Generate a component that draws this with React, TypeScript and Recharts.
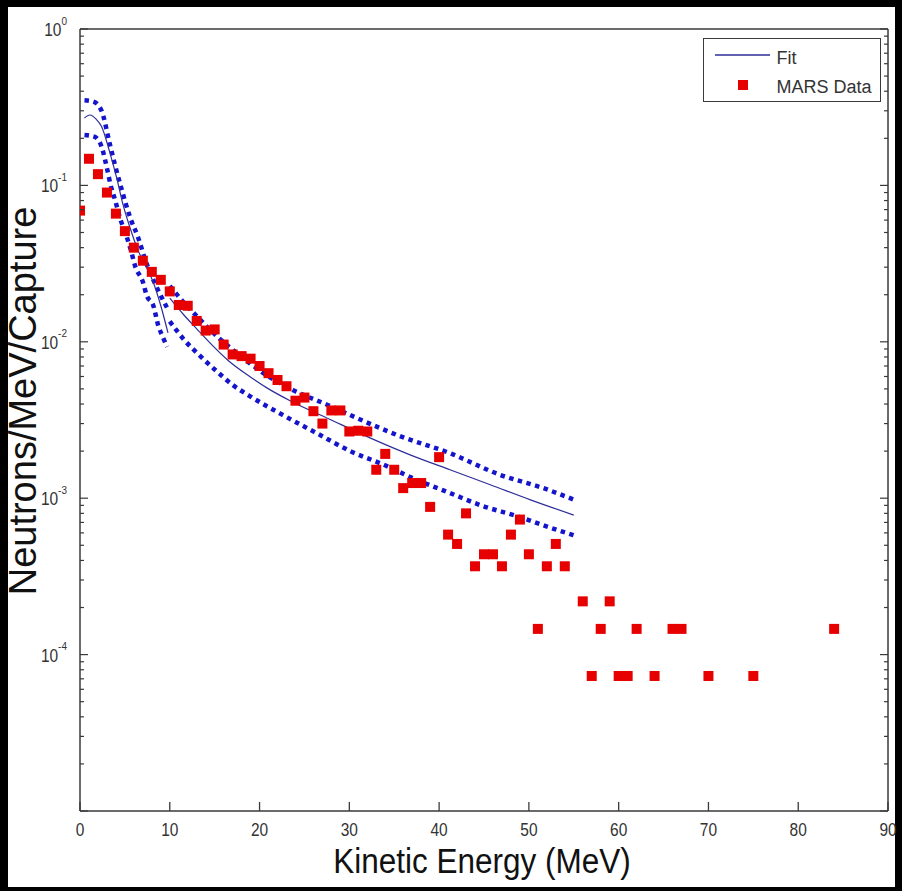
import React from "react";
import { ComposedChart, Line, Scatter, XAxis, YAxis, Legend, Label } from "recharts";

// MARS simulated spectrum (red squares)
const marsEnergy = [
  0, 1, 2, 3, 4, 5, 6, 7, 8, 9, 10, 11, 12, 13, 14, 15, 16, 17, 18, 19, 20, 21, 22, 23, 24, 25, 26, 27,
  28, 29, 30, 31, 32, 33, 34, 35, 36, 37, 38, 39, 40, 41, 42, 43, 44, 45, 46, 47, 48, 49, 50, 51, 52,
  53, 54, 56, 57, 58, 59, 60, 61, 62, 64, 66, 67, 70, 75, 84,
];
const marsValue = [
  0.069, 0.148, 0.118, 0.09, 0.066, 0.051, 0.04, 0.033, 0.028, 0.0249, 0.021, 0.0172, 0.017, 0.0136,
  0.0118, 0.012, 0.0096, 0.0083, 0.0081, 0.0078, 0.007, 0.0063, 0.0057, 0.0052, 0.0042, 0.0044, 0.0036,
  0.003, 0.00364, 0.00364, 0.00267, 0.0027, 0.00267, 0.00152, 0.00192, 0.00152, 0.00116, 0.00125,
  0.00125, 0.00088, 0.00183, 0.000585, 0.00051, 0.0008, 0.000367, 0.000438, 0.000438, 0.000367,
  0.000585, 0.00073, 0.000438, 0.000146, 0.000367, 0.00051, 0.000367, 0.000219, 0.000073, 0.000146,
  0.000219, 0.000073, 0.000073, 0.000146, 0.000073, 0.000146, 0.000146, 0.000073, 0.000073, 0.000146,
];

// fit, low energy part
const fitLowE = [0.5, 1.1, 1.8, 2.4, 3.3, 4.1, 4.8, 5.6, 6.5, 7.4, 8.2, 9.0, 9.8];
const fitLowV = [0.27, 0.282, 0.265, 0.238, 0.164, 0.111, 0.075, 0.053, 0.038, 0.03, 0.0237, 0.017, 0.0114];
const fitLowUpE = [0.5, 1.5, 2.4, 3.3, 3.9, 4.6, 5.6, 6.5, 7.3, 8.5, 9.7];
const fitLowUpV = [0.35, 0.343, 0.3, 0.186, 0.135, 0.096, 0.062, 0.046, 0.033, 0.0226, 0.0165];
const fitLowDnE = [0.5, 1.6, 2.4, 3.0, 3.4, 3.9, 4.45, 5.2, 5.75, 6.1, 7.05, 7.4, 8.2, 8.7, 9.2, 9.7];
const fitLowDnV = [
  0.21, 0.205, 0.177, 0.129, 0.101, 0.081, 0.062, 0.047, 0.037, 0.031, 0.0237, 0.02, 0.0168, 0.0128,
  0.0108, 0.0093,
];

// fit, high energy part
const fitHighE = [10, 11.5, 13, 14.5, 16.5, 18.9, 21, 23.4, 27.8, 32.3, 36.7, 41.2, 45.7, 50.1, 55];
const fitHighV = [
  0.019, 0.015, 0.0121, 0.0098, 0.0076, 0.006, 0.005, 0.0042, 0.0032, 0.00243, 0.0019, 0.00152,
  0.00122, 0.00098, 0.00078,
];
const fitHighUpE = [10, 11.5, 13, 14.5, 16.5, 18.9, 21, 23.75, 27.8, 30.1, 35.6, 41.2, 46.8, 51.6, 55];
const fitHighUpV = [
  0.0228, 0.018, 0.0146, 0.0119, 0.0094, 0.0073, 0.006, 0.0049, 0.0039, 0.0034, 0.0025, 0.00194,
  0.00141, 0.00116, 0.00098,
];
const fitHighDnE = [10, 11.6, 13.4, 15.2, 17, 18.9, 22.6, 26.4, 30.1, 33.8, 37.5, 41.2, 44.9, 48.6, 52.3, 55];
const fitHighDnV = [
  0.0135, 0.0103, 0.0081, 0.0065, 0.0053, 0.0045, 0.0034, 0.0026, 0.002, 0.00164, 0.00131, 0.00108,
  0.00089, 0.00077, 0.00065, 0.00058,
];

const xTicks = [0, 10, 20, 30, 40, 50, 60, 70, 80, 90];
const yDecades = [-5, -4, -3, -2, -1];
const yMinorSteps = [2, 3, 4, 5, 6, 7, 8, 9];
const yTicks = [
  ...yDecades.flatMap((d) => [Math.pow(10, d), ...yMinorSteps.map((m) => m * Math.pow(10, d))]),
  1,
];
const yLabelExp: Record<string, string> = {
  "0.0001": "-4",
  "0.001": "-3",
  "0.01": "-2",
  "0.1": "-1",
  "1": "0",
};

const pairs = (es: number[], vs: number[]) => es.map((e, i) => ({ e, v: vs[i] }));

const W = 902;
const H = 891;
const PLOT_L = 80;
const PLOT_R = 888;
const PLOT_T = 29;
const PLOT_B = 811;

const FONT = '"Liberation Sans", Arial, sans-serif';
const AXIS = "#3a3a3a";
const TEXT = "#333333";
const RED = "#e60000";
const DOT_BLUE = "#1414cc";
const FIT_BLUE = "#2e2e99";

const isMajor = (v: number) => Math.abs(Math.log10(v) - Math.round(Math.log10(v))) < 1e-6;

function XTickBottom(props: any) {
  const { x, payload } = props;
  return (
    <g>
      <line x1={x} x2={x} y1={PLOT_B} y2={PLOT_B - 9} stroke={AXIS} strokeWidth={1.3} />
      <text
        transform={`translate(${x},${PLOT_B + 25}) scale(1,1.15)`}
        textAnchor="middle"
        fontSize={15.5}
        fontFamily={FONT}
        fill={TEXT}
      >
        {payload.value}
      </text>
    </g>
  );
}

function XTickTop(props: any) {
  const { x } = props;
  return <line x1={x} x2={x} y1={PLOT_T} y2={PLOT_T + 9} stroke={AXIS} strokeWidth={1.3} />;
}

function YTickLeft(props: any) {
  const { y, payload } = props;
  const major = isMajor(payload.value);
  const exp = yLabelExp[String(payload.value)];
  return (
    <g>
      <line x1={PLOT_L} x2={PLOT_L + (major ? 8 : 4)} y1={y} y2={y} stroke={AXIS} strokeWidth={1.2} />
      {exp !== undefined && (
        <text
          transform={`translate(${PLOT_L - 13},${y + 7}) scale(1,1.15)`}
          textAnchor="end"
          fontSize={15.5}
          fontFamily={FONT}
          fill={TEXT}
        >
          <tspan>10</tspan>
          <tspan dy={-10} fontSize={10}>
            {exp}
          </tspan>
        </text>
      )}
    </g>
  );
}

function YTickRight(props: any) {
  const { y, payload } = props;
  const major = isMajor(payload.value);
  return <line x1={PLOT_R} x2={PLOT_R - (major ? 8 : 4)} y1={y} y2={y} stroke={AXIS} strokeWidth={1.2} />;
}

function MarsSquare(props: any) {
  const { cx, cy } = props;
  if (cx == null || cy == null) return null;
  return <rect x={cx - 5} y={cy - 5} width={10} height={10} fill={RED} />;
}

function FitLegend() {
  return (
    <div style={{ width: 178, height: 64, boxSizing: "border-box", border: `1px solid ${AXIS}`, background: "#fff" }}>
      <svg width={176} height={62} style={{ display: "block" }}>
        <line x1={11} x2={66} y1={16} y2={16} stroke={FIT_BLUE} strokeWidth={1.3} />
        <text x={72.5} y={25} fontSize={18} fontFamily={FONT} fill={TEXT}>
          Fit
        </text>
        <rect x={34} y={41} width={10} height={10} fill={RED} />
        <text x={72.5} y={54} fontSize={18} fontFamily={FONT} fill={TEXT}>
          MARS Data
        </text>
      </svg>
    </div>
  );
}

const dotted = { stroke: DOT_BLUE, strokeWidth: 4.5, strokeDasharray: "4.5 4.5" };

export default function App() {
  return (
    <div style={{ position: "absolute", left: 0, top: 0, width: W, height: H, background: "#000" }}>
      <div style={{ position: "absolute", left: 8, top: 7, width: 887, height: 880, background: "#fff" }} />
      <div style={{ position: "absolute", left: 0, top: 0 }}>
        <ComposedChart
          width={W}
          height={H}
          margin={{ top: PLOT_T - 1, right: W - PLOT_R - 1, bottom: 8, left: 8 }}
          style={{ fontFamily: FONT }}
        >
          <XAxis
            xAxisId="b"
            type="number"
            dataKey="e"
            domain={[0, 90]}
            ticks={xTicks}
            interval={0}
            allowDataOverflow
            height={H - PLOT_B - 8}
            tickLine={false}
            axisLine={{ stroke: AXIS, strokeWidth: 1.5 }}
            tick={<XTickBottom />}
          >
            <Label
              content={() => (
                <text
                  transform={`translate(482,873) scale(1,1.1)`}
                  textAnchor="middle"
                  fontSize={31.5}
                  fontFamily={FONT}
                  fill="#111"
                >
                  Kinetic Energy (MeV)
                </text>
              )}
            />
          </XAxis>
          <XAxis
            xAxisId="t"
            orientation="top"
            type="number"
            domain={[0, 90]}
            ticks={xTicks}
            interval={0}
            allowDataOverflow
            height={1}
            tickLine={false}
            axisLine={{ stroke: AXIS, strokeWidth: 1.5 }}
            tick={<XTickTop />}
          />
          <YAxis
            yAxisId="l"
            type="number"
            dataKey="v"
            scale="log"
            domain={[1e-5, 1]}
            ticks={yTicks}
            interval={0}
            allowDataOverflow
            width={PLOT_L - 8}
            tickLine={false}
            axisLine={{ stroke: AXIS, strokeWidth: 1.5 }}
            tick={<YTickLeft />}
          >
            <Label
              content={() => (
                <text
                  transform="translate(36,401) rotate(-90)"
                  textAnchor="middle"
                  fontSize={38}
                  fontFamily={FONT}
                  fill="#111"
                >
                  Neutrons/MeV/Capture
                </text>
              )}
            />
          </YAxis>
          <YAxis
            yAxisId="r"
            orientation="right"
            type="number"
            scale="log"
            domain={[1e-5, 1]}
            ticks={yTicks}
            interval={0}
            allowDataOverflow
            width={1}
            tickLine={false}
            axisLine={{ stroke: AXIS, strokeWidth: 1.5 }}
            tick={<YTickRight />}
          />

          <Line xAxisId="b" yAxisId="l" data={pairs(fitLowUpE, fitLowUpV)} dataKey="v" type="monotone" dot={false} {...dotted} isAnimationActive={false} />
          <Line xAxisId="b" yAxisId="l" data={pairs(fitLowDnE, fitLowDnV)} dataKey="v" type="monotone" dot={false} {...dotted} isAnimationActive={false} />
          <Line xAxisId="b" yAxisId="l" data={pairs(fitHighUpE, fitHighUpV)} dataKey="v" type="monotone" dot={false} {...dotted} isAnimationActive={false} />
          <Line xAxisId="b" yAxisId="l" data={pairs(fitHighDnE, fitHighDnV)} dataKey="v" type="monotone" dot={false} {...dotted} isAnimationActive={false} />
          <Line xAxisId="b" yAxisId="l" data={pairs(fitLowE, fitLowV)} dataKey="v" type="monotone" dot={false} stroke={FIT_BLUE} strokeWidth={1.2} isAnimationActive={false} />
          <Line xAxisId="b" yAxisId="l" data={pairs(fitHighE, fitHighV)} dataKey="v" type="monotone" dot={false} stroke={FIT_BLUE} strokeWidth={1.2} isAnimationActive={false} />
          <Scatter
            xAxisId="b"
            yAxisId="l"
            data={pairs(marsEnergy, marsValue)}
            dataKey="v"
            fill={RED}
            shape={<MarsSquare />}
            isAnimationActive={false}
          />
          <Legend
            layout="vertical"
            align="center"
            verticalAlign="middle"
            wrapperStyle={{ position: "absolute", left: 703, top: 38, width: 178, height: 64 }}
            content={() => <FitLegend />}
          />
        </ComposedChart>
      </div>
    </div>
  );
}
